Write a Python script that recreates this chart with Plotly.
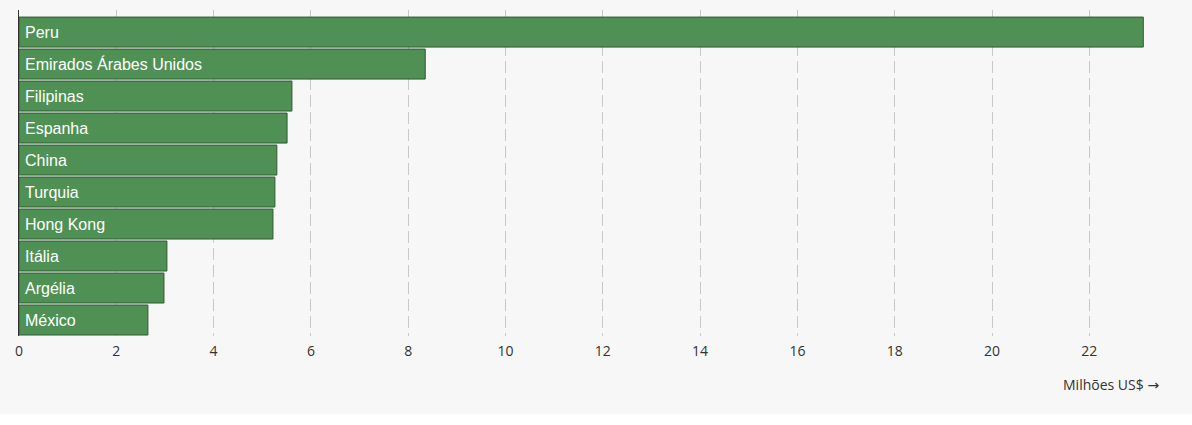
import plotly.graph_objects as go

countries = ["Peru", "Emirados Árabes Unidos", "Filipinas", "Espanha", "China",
             "Turquia", "Hong Kong", "Itália", "Argélia", "México"]
values = [23.11, 8.35, 5.61, 5.51, 5.30, 5.26, 5.22, 3.04, 2.98, 2.65]
x_ticks = [0, 2, 4, 6, 8, 10, 12, 14, 16, 18, 20, 22]
axis_title = "Milhões US$ <span style='font-family:DejaVu Sans'>→</span>"

W, H = 1192, 414
ml, mr, mt, mb = 19, 20, 10, 78
plot_h = H - mt - mb

fig = go.Figure(go.Bar(
    x=values,
    y=countries,
    orientation="h",
    marker=dict(color="#4f9154", line=dict(color="#2e5a32", width=1)),
    hoverinfo="x+y",
))

label_annotations = [dict(
    text=c, x=0, y=c, xref="x", yref="y",
    xanchor="left", yanchor="middle", xshift=4, showarrow=False,
    font=dict(family="Liberation Sans, Arial, sans-serif", size=16, color="#ffffff"),
) for c in countries]

fig.update_layout(
    width=W, height=H,
    margin=dict(l=ml, r=mr, t=mt, b=mb, pad=0),
    paper_bgcolor="#f7f7f7",
    plot_bgcolor="#f7f7f7",
    bargap=0.0625,
    showlegend=False,
    font=dict(family="Open Sans, sans-serif", size=14, color="#333333"),
    xaxis=dict(
        range=[0, 23.7],
        tickvals=x_ticks,
        ticktext=[str(t) for t in x_ticks],
        showgrid=True,
        gridcolor="#c8c8c8",
        griddash="12px,5px",
        gridwidth=1,
        zeroline=False,
        showline=False,
        ticks="",
        ticklabelstandoff=5,
        tickfont=dict(family="Open Sans, sans-serif", size=14, color="#333333"),
        fixedrange=True,
    ),
    yaxis=dict(
        categoryorder="array",
        categoryarray=countries,
        range=[9.5, -0.69],
        showticklabels=False,
        showgrid=False,
        zeroline=False,
        showline=True,
        linecolor="#333333",
        linewidth=1,
        ticks="",
        fixedrange=True,
    ),
    annotations=label_annotations + [dict(
        text=axis_title,
        xref="paper", yref="paper",
        x=(1161 - ml) / (W - ml - mr), y=-(384 - (H - mb)) / plot_h,
        xanchor="right", yanchor="middle",
        showarrow=False,
        font=dict(family="Open Sans, sans-serif", size=14, color="#333333"),
    )],
)

fig.write_html("out.html", config={"displayModeBar": False},
               post_script="document.body.style.margin='0';")
